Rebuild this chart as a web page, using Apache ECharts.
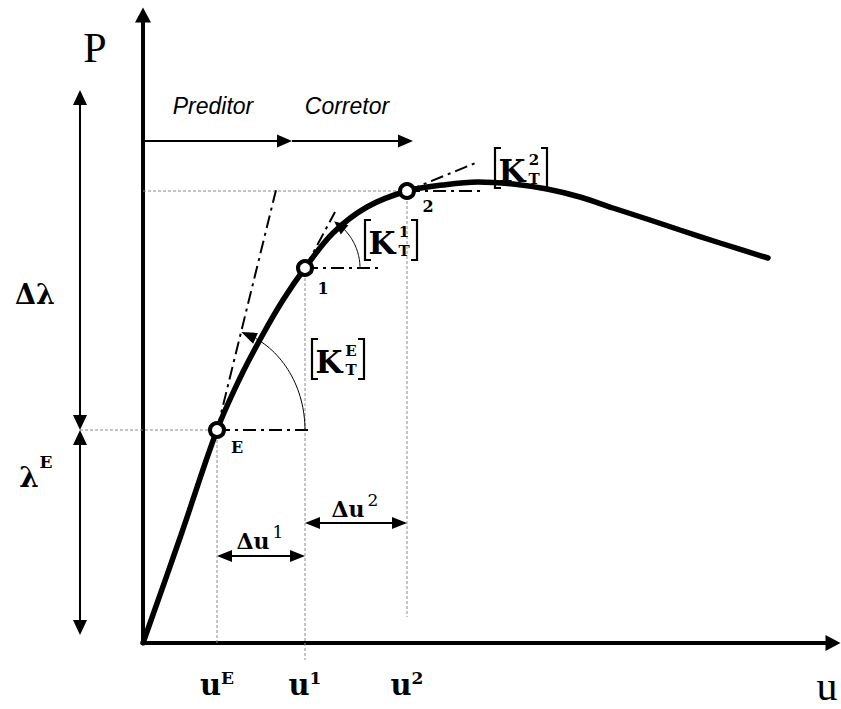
<!DOCTYPE html>
<html><head><meta charset="utf-8">
<script src="https://cdn.jsdelivr.net/npm/echarts@6/dist/echarts.min.js"></script>
<style>html,body{margin:0;padding:0;background:#fff}#c{width:841px;height:709px}</style>
</head><body><div id="c"></div>
<script>
// ---- data (u = displacement, P = load) ----
const curveU = [0, 0.38, 0.74, 0.97, 1.19, 1.40, 1.62, 1.90, 2.24, 2.64, 3.00, 3.35, 3.70, 4.04, 4.37, 4.70, 5.07, 5.37, 5.77, 6.25];
const curveP = [0, 1.08, 2.13, 2.65, 3.07, 3.43, 3.75, 4.10, 4.36, 4.52, 4.58, 4.61, 4.59, 4.54, 4.46, 4.35, 4.23, 4.13, 4.00, 3.85];
const stepNames = ['E', '1', '2'];
const stepU = [0.74, 1.62, 2.64];
const stepP = [2.13, 3.75, 4.52];
const tangentEndU = [1.33, 1.92, 3.35];
const tangentEndP = [4.53, 4.31, 4.81];
const levelEndU = [1.69, 2.39, 3.40];
const uTickValues = [0.74, 1.62, 2.64];
const uTickNames = ['E', '1', '2'];
const stiffnessNames = ['E', '1', '2'];

// ---- styling / layout ----
const MATH = '"DejaVu Serif", serif';
const PLAIN = '"Liberation Serif", serif';
const SANS = '"Liberation Sans", Arial, sans-serif';
const guide = {stroke: '#8a8a8a', lineWidth: 1, lineDash: [3, 2], fill: null};
const dashDot = {stroke: '#000', lineWidth: 2, lineDash: [13, 5, 3, 5], fill: null};

function seg(a, b, style) {
  return {type: 'line', shape: {x1: a[0], y1: a[1], x2: b[0], y2: b[1]}, style: Object.assign({fill: null}, style)};
}
function head(tip, from, len, w) {
  const dx = tip[0] - from[0], dy = tip[1] - from[1], L = Math.hypot(dx, dy);
  const ux = dx / L, uy = dy / L;
  const bx = tip[0] - ux * len, by = tip[1] - uy * len;
  return {type: 'polygon', shape: {points: [tip, [bx - uy * w / 2, by + ux * w / 2], [bx + uy * w / 2, by - ux * w / 2]]}, style: {fill: '#000'}};
}
function arrow(a, b, dbl, lw, len, w) {
  const dx = b[0] - a[0], dy = b[1] - a[1], L = Math.hypot(dx, dy), ux = dx / L, uy = dy / L;
  const a2 = dbl ? [a[0] + ux * len * 0.7, a[1] + uy * len * 0.7] : a;
  const b2 = [b[0] - ux * len * 0.7, b[1] - uy * len * 0.7];
  const out = [seg(a2, b2, {stroke: '#000', lineWidth: lw}), head(b, a, len, w)];
  if (dbl) out.push(head(a, b, len, w));
  return out;
}
function txt(pt, s, font, dx, dy, align) {
  align = align || 'center';
  return {type: 'text', style: {text: s, x: pt[0] + (dx || 0), y: pt[1] + (dy || 0), font: font, fill: '#000',
    align: align, textAlign: align, verticalAlign: 'middle', textVerticalAlign: 'middle'}};
}
function custom(z, draw) {
  return {type: 'custom', coordinateSystem: 'cartesian2d', clip: false, silent: true, z: z,
    data: [[0, 0]], renderItem: function (params, api) {
      const c = (u, p) => api.coord([u, p]);
      return {type: 'group', children: draw(c)};
    }};
}

const chart = echarts.init(document.getElementById('c'), null, {renderer: 'svg'});

const lambdaE = stepP[0];
const dimU = -0.63;

const guides = custom(1, c => [
  seg(c(dimU, lambdaE), c(stepU[0], lambdaE), guide),
  seg(c(0, stepP[2]), c(stepU[2], stepP[2]), guide),
  seg(c(stepU[0], stepP[0]), c(stepU[0], 0), guide),
  seg(c(stepU[1], stepP[1]), c(stepU[1], -0.17), guide),
  seg(c(stepU[2], stepP[2]), c(stepU[2], 0.26), guide)
]);

const tangents = custom(2, c => {
  const out = [];
  stepU.forEach((u, i) => {
    out.push(seg(c(u, stepP[i]), c(tangentEndU[i], tangentEndP[i]), dashDot));
    out.push(seg(c(u, stepP[i]), c(levelEndU[i], stepP[i]), dashDot));
  });
  return out;
});

function arcEls(c, cu, cp, ru, rp, a1, tipA) {
  const pts = [];
  for (let k = 0; k <= 30; k++) {
    const t = a1 * k / 30 * Math.PI / 180;
    pts.push(c(cu + ru * Math.cos(t), cp + rp * Math.sin(t)));
  }
  const tt = tipA * Math.PI / 180;
  const tip = c(cu + ru * Math.cos(tt), cp + rp * Math.sin(tt));
  const base = pts[pts.length - 1];
  return [{type: 'polyline', shape: {points: pts}, style: {stroke: '#000', lineWidth: 1, fill: null}},
    head(tip, base, Math.hypot(tip[0] - base[0], tip[1] - base[1]), 12)];
}

function kLabel(c, u, p, sup) {
  const o = c(u, p), L = o[0], cy = o[1];
  return [
    {type: 'polyline', shape: {points: [[L + 8, cy - 20], [L + 2, cy - 20], [L + 2, cy + 20], [L + 8, cy + 20]]}, style: {stroke: '#000', lineWidth: 2.2, fill: null}},
    {type: 'polyline', shape: {points: [[L + 48, cy - 20], [L + 54, cy - 20], [L + 54, cy + 20], [L + 48, cy + 20]]}, style: {stroke: '#000', lineWidth: 2.2, fill: null}},
    txt([L, cy], 'K', 'bold 31px ' + MATH, 19, 3),
    txt([L, cy], sup, 'bold 15px ' + MATH, 41, -8.5),
    txt([L, cy], 'T', 'bold 15px ' + MATH, 41, 10.5)
  ];
}

const annot = custom(4, c => {
  let out = [];
  // arcs showing tangent stiffness
  out = out.concat(arcEls(c, stepU[0], stepP[0], 0.88, 1.02, 64, 74));
  out = out.concat(arcEls(c, stepU[1], stepP[1], 0.55, 0.55, 44, 58));
  // predictor / corrector arrows
  out = out.concat(arrow(c(0, 5.02), c(1.49, 5.02), false, 2, 15, 13));
  out = out.concat(arrow(c(1.49, 5.02), c(2.70, 5.02), false, 2, 15, 13));
  // Δu arrows
  out = out.concat(arrow(c(stepU[0], 0.87), c(stepU[1], 0.87), true, 2, 15, 12));
  out = out.concat(arrow(c(stepU[1], 1.20), c(stepU[2], 1.20), true, 2, 15, 12));
  // load dimension arrows
  out = out.concat(arrow(c(dimU, lambdaE), c(dimU, 5.53), true, 2, 15, 14));
  out = out.concat(arrow(c(dimU, 0.08), c(dimU, lambdaE), true, 2, 15, 14));
  // texts
  out.push(txt(c(0.70, 5.37), 'Preditor', 'italic 23px ' + SANS));
  out.push(txt(c(2.04, 5.37), 'Corretor', 'italic 23px ' + SANS));
  out.push(txt(c(-0.48, 5.95), 'P', '42px ' + PLAIN));
  out.push(txt(c(6.84, -0.43), 'u', '42px ' + PLAIN));
  out.push(txt(c(-1.08, 3.49), 'Δλ', 'bold 27px ' + MATH));
  out.push(txt(c(-1.14, 1.66), 'λ', 'bold 28px ' + MATH));
  out.push(txt(c(-1.14, 1.66), 'E', 'bold 17px ' + MATH, 17, -15));
  out.push(txt(c(1.10, 1.02), 'Δu', 'bold 22px ' + MATH));
  out.push(txt(c(1.10, 1.02), '1', '17px ' + MATH, 25, -9));
  out.push(txt(c(2.05, 1.34), 'Δu', 'bold 22px ' + MATH));
  out.push(txt(c(2.05, 1.34), '2', '17px ' + MATH, 25, -9));
  out = out.concat(kLabel(c, 1.67, 2.84, stiffnessNames[0]));
  out = out.concat(kLabel(c, 2.20, 4.03, stiffnessNames[1]));
  out = out.concat(kLabel(c, 3.50, 4.75, stiffnessNames[2]));
  return out;
});

const labelOffsets = [[20, 17], [18, 20], [21, 15]];

const option = {
  animation: false,
  backgroundColor: '#fff',
  grid: {left: 143, right: 8, top: 15, bottom: 66},
  xAxis: {
    type: 'value', min: 0, max: 6.90,
    axisLine: {lineStyle: {color: '#000', width: 4}, symbol: ['none', 'triangle'], symbolSize: [16, 15]},
    axisTick: {show: false}, splitLine: {show: false},
    axisLabel: {
      customValues: uTickValues, margin: 26,
      formatter: function (v) {
        let i = uTickValues.indexOf(v);
        if (i < 0) i = uTickValues.findIndex(t => Math.abs(t - v) < 1e-6);
        return '{m|u}{s|' + (uTickNames[i] || '') + '}';
      },
      rich: {
        m: {fontFamily: 'DejaVu Serif', fontWeight: 'bold', fontSize: 29, color: '#000', verticalAlign: 'bottom', lineHeight: 30},
        s: {fontFamily: 'DejaVu Serif', fontWeight: 'bold', fontSize: 17, color: '#000', verticalAlign: 'top', lineHeight: 18}
      }
    }
  },
  yAxis: {
    type: 'value', min: 0, max: 6.28,
    axisLine: {lineStyle: {color: '#000', width: 4}, symbol: ['none', 'triangle'], symbolSize: [16, 15]},
    axisTick: {show: false}, splitLine: {show: false}, axisLabel: {show: false}
  },
  series: [
    guides, tangents, annot,
    {
      type: 'line', z: 5, smooth: 0.35, showSymbol: false, silent: true,
      data: curveU.map((u, i) => [u, curveP[i]]),
      lineStyle: {color: '#000', width: 5.5, cap: 'round'}
    },
    {
      type: 'scatter', z: 6, silent: true,
      symbol: 'circle', symbolSize: 14,
      itemStyle: {color: '#fff', borderColor: '#000', borderWidth: 4, opacity: 1},
      data: stepU.map((u, i) => ({value: [u, stepP[i]], name: stepNames[i], label: {offset: labelOffsets[i]}})),
      label: {show: true, position: 'inside', formatter: p => p.name, fontFamily: 'DejaVu Serif', fontWeight: 'bold', fontSize: 16, color: '#000'}
    }
  ]
};
chart.setOption(option);
</script>
</body></html>
